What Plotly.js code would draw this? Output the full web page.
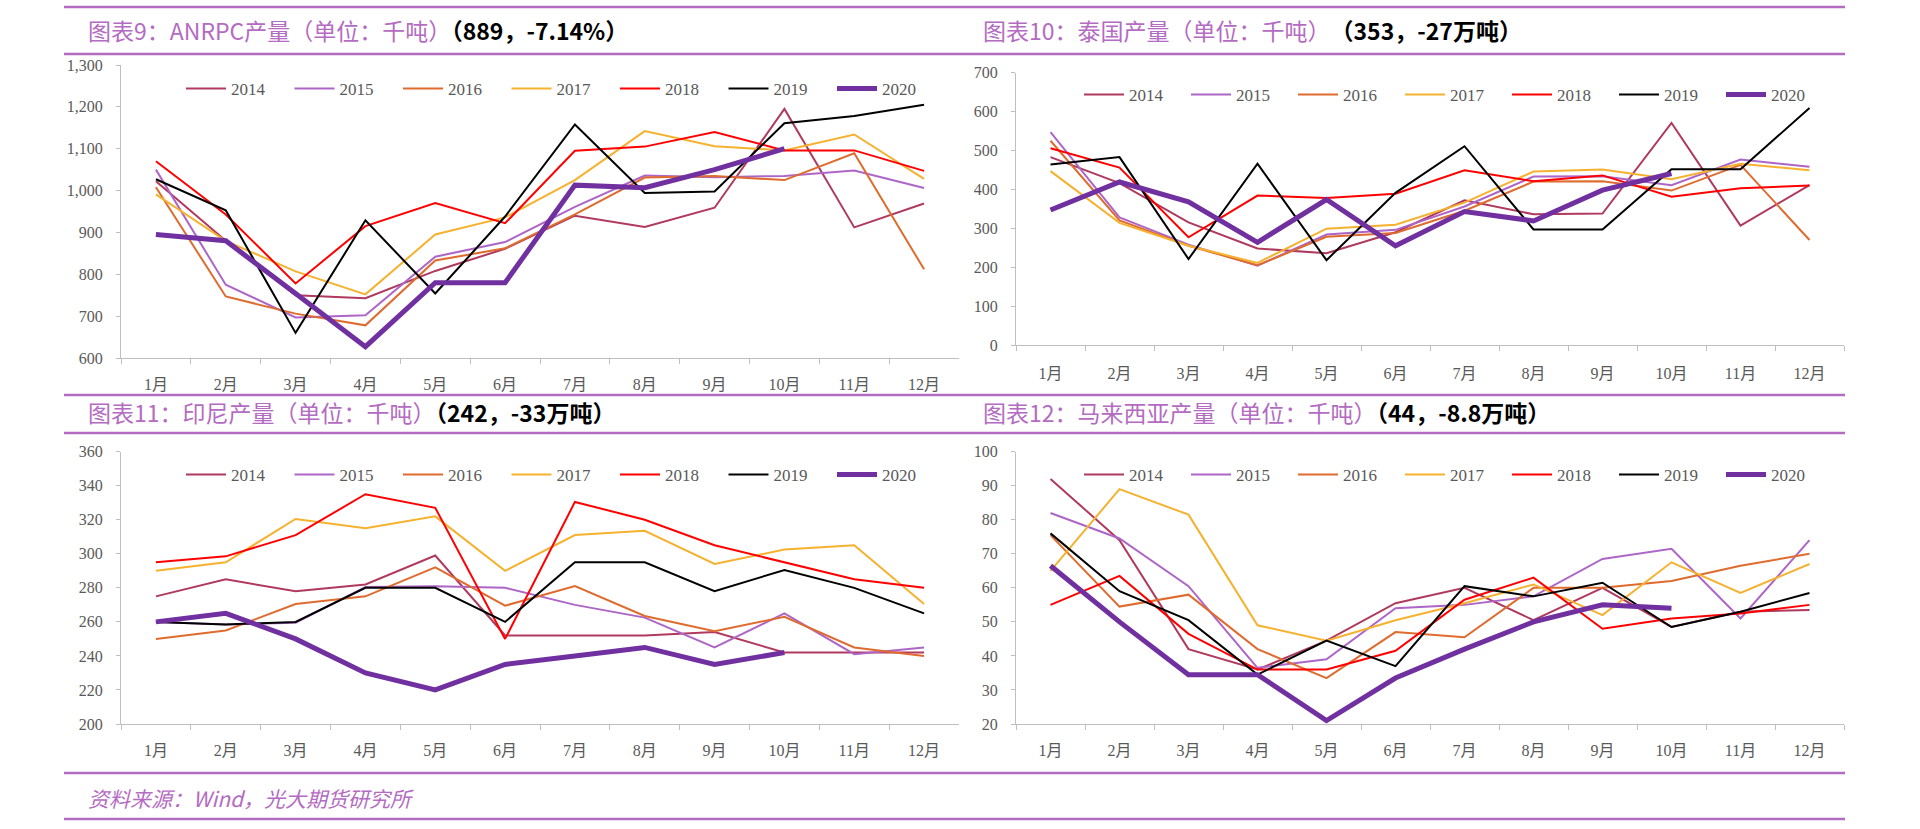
<!DOCTYPE html>
<html>
<head>
<meta charset="utf-8">
<script src="https://cdn.plot.ly/plotly-3.0.1.min.js"></script>
<style>
html,body{margin:0;padding:0;background:#fff;}
#chart{width:1920px;height:829px;}
</style>
</head>
<body>
<div id="chart"></div>
<script>
// ---- data ----
const months = ['1月','2月','3月','4月','5月','6月','7月','8月','9月','10月','11月','12月'];
const years = ['2014','2015','2016','2017','2018','2019','2020'];

// ANRPC output (thousand tonnes)
const anrpc2014 = [1022, 880, 750, 743, 808, 861, 940, 913, 959, 1195, 912, 969];
const anrpc2015 = [1050, 775, 697, 702, 842, 877, 961, 1036, 1032, 1035, 1048, 1006];
const anrpc2016 = [1008, 747, 706, 678, 833, 862, 943, 1031, 1035, 1025, 1089, 812];
const anrpc2017 = [991, 880, 807, 752, 895, 936, 1025, 1142, 1106, 1096, 1134, 1028];
const anrpc2018 = [1070, 943, 778, 915, 970, 922, 1095, 1105, 1140, 1096, 1096, 1047];
const anrpc2019 = [1027, 953, 660, 929, 754, 938, 1158, 994, 998, 1161, 1178, 1205];
const anrpc2020 = [895, 880, 754, 627, 780, 780, 1013, 1007, 1050, 1100];

// Thailand
const th2014 = [483, 416, 315, 248, 236, 290, 372, 336, 338, 571, 307, 411];
const th2015 = [547, 328, 258, 204, 284, 296, 356, 433, 434, 411, 477, 458];
const th2016 = [525, 320, 255, 205, 278, 288, 345, 420, 421, 397, 463, 270];
const th2017 = [447, 314, 255, 211, 299, 309, 366, 446, 451, 426, 466, 449];
const th2018 = [506, 456, 277, 384, 378, 389, 449, 421, 436, 381, 403, 410];
const th2019 = [464, 483, 221, 466, 218, 391, 511, 297, 297, 452, 452, 609];
const th2020 = [347, 419, 368, 264, 374, 255, 343, 319, 398, 441];

// Indonesia
const id2014 = [275, 285, 278, 282, 299, 252, 252, 252, 254, 242, 242, 242];
const id2015 = [260, 258.5, 259.5, 280.5, 281, 280, 270, 262.5, 245, 265, 241, 245];
const id2016 = [250, 255, 270.5, 275, 292, 269.5, 281, 263.5, 254.5, 263, 245, 240];
const id2017 = [290, 295, 320.5, 315, 322, 290, 311, 313.5, 294, 302.5, 305, 270.5];
const id2018 = [295, 298.5, 311, 335, 327, 250, 330.5, 320, 305, 295, 285, 280];
const id2019 = [260, 258.5, 260, 280, 280, 260, 295, 295, 278, 290.5, 280, 265];
const id2020 = [260, 265, 250, 230, 220, 235, 240, 245, 235, 242];

// Malaysia
const my2014 = [92, 74, 42, 36, 44.5, 55.5, 60, 50.5, 60, 48.5, 53, 53.5];
const my2015 = [82, 74.5, 60.5, 36.5, 39, 54, 55, 57.5, 68.5, 71.5, 51, 74];
const my2016 = [75.5, 54.5, 58, 42, 33.5, 47, 45.5, 60, 60, 62, 66.5, 70];
const my2017 = [65, 89, 81.5, 49, 44.5, 50.5, 55.5, 61, 52, 67.5, 58.5, 67];
const my2018 = [55, 63.5, 46.5, 36, 36, 41.5, 56.5, 63, 48, 51, 52.5, 55];
const my2019 = [76, 59, 50.5, 34.5, 44.5, 37, 60.5, 57.5, 61.5, 48.5, 53, 58.5];
const my2020 = [66.5, 50, 34.5, 34.5, 21, 33.5, 42, 50, 55, 54];

const titles = [
  ['图表9：ANRPC产量（单位：千吨）', '（889，-7.14%）'],
  ['图表10：泰国产量（单位：千吨）', '　（353，-27万吨）'],
  ['图表11：印尼产量（单位：千吨）', '（242，-33万吨）'],
  ['图表12：马来西亚产量（单位：千吨）', '（44，-8.8万吨）']
];
const sourceText = '资料来源：Wind，光大期货研究所';

// ---- styling ----
const colors = ['#B03A5E', '#AD66C7', '#DF6B2E', '#F6B12F', '#FF0000', '#000000', '#7030A0'];
const widths = [2, 2, 2, 2, 2, 2, 5];
const purple = '#B46BC2';
const W = 1920, H = 829;
const px = v => v / W;
const py = v => 1 - v / H;
const tickFamily = '"Liberation Serif", "Times New Roman", "Noto Sans CJK SC", serif';

const panels = [
  {series: [anrpc2014, anrpc2015, anrpc2016, anrpc2017, anrpc2018, anrpc2019, anrpc2020],
   xd: [121, 959], yd: [358, 65], range: [600, 1300], dtick: 100, fmt: ',d', leg: [181, 89], ew: 53.5, std: 12},
  {series: [th2014, th2015, th2016, th2017, th2018, th2019, th2020],
   xd: [1016, 1844], yd: [345, 72.7], range: [0, 700], dtick: 100, fmt: 'd', leg: [1079, 95], ew: 52, std: 14},
  {series: [id2014, id2015, id2016, id2017, id2018, id2019, id2020],
   xd: [121, 959], yd: [724, 451.7], range: [200, 360], dtick: 20, fmt: 'd', leg: [181, 475], ew: 53.5, std: 12},
  {series: [my2014, my2015, my2016, my2017, my2018, my2019, my2020],
   xd: [1016, 1844], yd: [724, 451.7], range: [20, 100], dtick: 10, fmt: 'd', leg: [1079, 475], ew: 52, std: 12}
];

const traces = [];
const layout = {
  width: W, height: H,
  margin: {l: 0, r: 0, t: 0, b: 0, pad: 0, autoexpand: false},
  paper_bgcolor: '#ffffff', plot_bgcolor: 'rgba(0,0,0,0)',
  showlegend: true,
  annotations: [], shapes: []
};

panels.forEach((p, i) => {
  const n = i === 0 ? '' : String(i + 1);
  const legId = 'legend' + n;
  p.series.forEach((s, k) => {
    traces.push({
      type: 'scatter', mode: 'lines',
      x: months.slice(0, s.length), y: s,
      name: years[k],
      xaxis: 'x' + n, yaxis: 'y' + n,
      legend: legId,
      line: {color: colors[k], width: widths[k]},
      hoverinfo: 'skip'
    });
  });
  layout['xaxis' + n] = {
    domain: [px(p.xd[0]), px(p.xd[1])], anchor: 'y' + n,
    type: 'category', categoryorder: 'array', categoryarray: months,
    range: [-0.5, 11.5], fixedrange: true, automargin: false,
    showline: true, linecolor: '#BFBFBF', linewidth: 1,
    ticks: 'outside', ticklen: 5, tickcolor: '#BFBFBF', tickson: 'boundaries',
    showgrid: false, zeroline: false,
    ticklabelstandoff: p.std,
    tickfont: {family: tickFamily, size: 16, color: '#595959'}
  };
  layout['yaxis' + n] = {
    domain: [py(p.yd[0]), py(p.yd[1])], anchor: 'x' + n,
    range: p.range, dtick: p.dtick, tick0: p.range[0], tickformat: p.fmt,
    fixedrange: true, automargin: false,
    showline: true, linecolor: '#BFBFBF', linewidth: 1,
    ticks: 'outside', ticklen: 4, tickcolor: '#BFBFBF',
    showgrid: false, zeroline: false,
    ticklabelstandoff: 10,
    tickfont: {family: tickFamily, size: 16, color: '#595959'}
  };
  layout[legId] = {
    orientation: 'h', x: px(p.leg[0]), y: py(p.leg[1]),
    xanchor: 'left', yanchor: 'middle',
    entrywidth: p.ew, entrywidthmode: 'pixels',
    itemwidth: 40, traceorder: 'normal',
    bgcolor: 'rgba(0,0,0,0)', borderwidth: 0,
    font: {family: tickFamily, size: 17, color: '#595959'},
    itemclick: false, itemdoubleclick: false
  };
});

// titles
const titlePos = [[86, 30], [981, 30], [86, 412], [981, 412]];
titles.forEach((t, i) => {
  layout.annotations.push({
    xref: 'paper', yref: 'paper',
    x: px(titlePos[i][0]), y: py(titlePos[i][1]),
    xanchor: 'left', yanchor: 'middle', showarrow: false,
    text: '<span style="color:' + purple + '">' + t[0] + '</span><b>' + t[1] + '</b>',
    font: {family: '"Noto Sans CJK SC", sans-serif', size: 23, color: '#000000'}
  });
});
layout.annotations.push({
  xref: 'paper', yref: 'paper', x: px(86), y: py(798),
  xanchor: 'left', yanchor: 'middle', showarrow: false,
  text: '<i>' + sourceText + '</i>',
  font: {family: '"Noto Sans CJK SC", sans-serif', size: 21, color: purple}
});

// separator lines
[7, 54, 395, 433, 773, 819].forEach(y => {
  layout.shapes.push({
    type: 'line', xref: 'paper', yref: 'paper',
    x0: px(64), x1: px(1845), y0: py(y), y1: py(y),
    line: {color: purple, width: 2.5}
  });
});

Plotly.newPlot('chart', traces, layout, {staticPlot: true, displayModeBar: false});
</script>
</body>
</html>
